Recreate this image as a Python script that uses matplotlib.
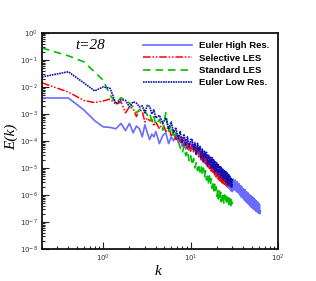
import numpy as np
import matplotlib
matplotlib.use("Agg")
import matplotlib.pyplot as plt
from matplotlib.ticker import LogLocator, NullFormatter

# wavenumber grid (segments A: 0.2-4.0, B: 4.4-10, C: 10.4-30, D: 30.8-62.8)
k = np.round(np.concatenate([np.arange(1, 21) * 0.2,
                             4.0 + np.arange(1, 16) * 0.4,
                             10.0 + np.arange(1, 51) * 0.4,
                             30.0 + np.arange(1, 42) * 0.8]), 2)

# log10 E(k)
logE_high = [
    # A
    -2.41, -2.41, -2.85, -3.25, -3.48, -3.50, -3.55, -3.35, -3.62, -3.35,
    -3.70, -3.45, -3.55, -3.85, -3.40, -3.70, -3.95, -3.75, -3.85, -3.65,
    # B
    -4.10, -3.80, -3.70, -4.10, -3.85, -4.00, -3.72, -4.05, -3.85, -4.20,
    -3.95, -4.30, -4.00, -4.35, -4.05,
    # C
    -4.00, -4.40, -4.05, -4.50, -4.15, -4.60, -4.25, -4.70, -4.35, -4.80,
    -4.42, -4.85, -4.50, -4.95, -4.55, -5.00, -4.65, -5.10, -4.72, -5.15,
    -4.78, -5.25, -4.85, -5.30, -4.90, -5.35, -4.95, -5.40, -5.00, -5.45,
    -5.05, -5.50, -5.10, -5.55, -5.15, -5.60, -5.20, -5.65, -5.25, -5.70,
    -5.30, -5.72, -5.35, -5.75, -5.40, -5.80, -5.42, -5.85, -5.45, -5.88,
    # D
    -5.40, -5.82, -5.45, -5.88, -5.50, -5.92, -5.58, -6.00, -5.65, -6.08,
    -5.70, -6.12, -5.78, -6.20, -5.80, -6.25, -5.88, -6.30, -5.92, -6.35,
    -5.98, -6.40, -6.02, -6.45, -6.05, -6.48, -6.10, -6.52, -6.12, -6.55,
    -6.18, -6.60, -6.22, -6.62, -6.25, -6.65, -6.30, -6.68, -6.35, -6.70,
    -6.60]

logE_sel = [
    # A
    -1.85, -2.19, -2.50, -2.58, -2.52, -2.45, -2.65, -2.55, -2.96, -2.74,
    -2.80, -3.10, -2.85, -2.90, -3.30, -3.15, -3.25, -3.20, -3.45, -3.30,
    # B
    -3.55, -3.35, -3.65, -3.45, -3.80, -3.60, -3.95, -3.75, -4.05, -3.85,
    -4.20, -3.95, -4.30, -4.10, -4.38,
    # C
    -4.10, -4.40, -4.22, -4.50, -4.30, -4.58, -4.40, -4.70, -4.45, -4.78,
    -4.55, -4.85, -4.62, -4.95, -4.72, -5.02, -4.80, -5.12, -4.90, -5.20,
    -4.98, -5.28, -5.05, -5.38, -5.12, -5.40, -5.18, -5.45, -5.22, -5.50,
    -5.28, -5.55, -5.30, -5.58, -5.35, -5.60, -5.38, -5.62, -5.40, -5.65,
    -5.42, -5.66, -5.45, -5.60, -5.48, -5.55]

logE_std = [
    # A
    -0.56, -0.85, -1.07, -1.45, -1.75, -2.30, -2.60, -2.40, -2.50, -2.60,
    -2.75, -2.96, -2.85, -2.75, -2.90, -3.05, -2.95, -3.30, -3.10, -3.40,
    # B
    -3.20, -3.60, -2.95, -3.65, -3.40, -3.90, -3.70, -4.00, -4.25, -4.45,
    -4.20, -4.55, -4.35, -4.75, -4.55,
    # C
    -4.90, -4.65, -5.00, -4.80, -5.10, -4.85, -5.15, -4.92, -5.25, -5.00,
    -5.35, -5.10, -5.45, -5.20, -5.55, -5.30, -5.65, -5.40, -5.75, -5.50,
    -5.85, -5.60, -5.95, -5.70, -6.05, -5.80, -6.15, -5.85, -6.20, -5.90,
    -6.25, -5.95, -6.20, -5.98, -6.30, -6.00, -6.25, -6.05, -6.35, -6.08,
    -6.30, -6.10, -6.38, -6.12, -6.35, -6.15, -6.40, -6.18, -6.38, -6.25]

logE_low = [
    # A
    -1.63, -1.44, -1.85, -2.15, -2.00, -2.05, -2.62, -2.48, -2.50, -2.74,
    -2.55, -2.60, -2.74, -2.70, -2.96, -2.68, -2.72, -3.00, -2.85, -3.15,
    # B
    -3.05, -3.35, -3.15, -3.55, -3.30, -3.70, -3.50, -3.95, -3.65, -4.05,
    -3.75, -4.15, -3.85, -4.25, -3.95,
    # C
    -3.92, -4.32, -4.10, -4.50, -4.09, -4.40, -4.20, -4.64, -4.30, -4.75,
    -4.38, -4.62, -4.42, -4.90, -4.50, -4.85, -4.60, -5.02, -4.62, -5.00,
    -4.70, -5.15, -4.75, -5.10, -4.82, -5.25, -4.88, -5.20, -4.92, -5.35,
    -4.98, -5.30, -5.02, -5.45, -5.10, -5.42, -5.12, -5.55, -5.15, -5.52,
    -5.20, -5.62, -5.25, -5.60, -5.30, -5.68, -5.35, -5.70, -5.40, -5.72]

labels = ["Euler High Res.", "Selective LES", "Standard LES", "Euler Low Res."]
annot = "t=28"

fig = plt.figure(figsize=(3.16, 2.81), dpi=100)
ax = fig.add_axes([0.133, 0.114, 0.747, 0.769])

def series(vals):
    kk = k[:len(vals)]
    return kk, 10.0 ** np.array(vals)

kx, ey = series(logE_high)
ax.plot(kx, ey, color="#6b6bff", lw=1.2, ls="-", label=labels[0])
kx, ey = series(logE_sel)
ax.plot(kx, ey, color="#ff0000", lw=1.1, ls=(0, (5, 1.2, 1, 1.2, 1, 1.2)), label=labels[1])
kx, ey = series(logE_std)
ax.plot(kx, ey, color="#00c000", lw=1.2, ls=(0, (4.5, 3)), label=labels[2])
kx, ey = series(logE_low)
ax.plot(kx, ey, color="#1010b0", lw=1.2, ls=(0, (1, 0.5)), label=labels[3])

ax.set_xscale("log")
ax.set_yscale("log")
ax.set_xlim(0.2, 100)
ax.set_ylim(1e-8, 1)

ax.xaxis.set_major_locator(LogLocator(base=10, numticks=10))
ax.xaxis.set_minor_locator(LogLocator(base=10, subs=np.arange(2, 10), numticks=20))
ax.yaxis.set_major_locator(LogLocator(base=10, numticks=12))
ax.yaxis.set_minor_locator(LogLocator(base=10, subs=np.arange(2, 10), numticks=20))
ax.xaxis.set_minor_formatter(NullFormatter())
ax.yaxis.set_minor_formatter(NullFormatter())

ax.tick_params(which="both", direction="in", top=False, right=False,
               labelsize=5, labelcolor="#333333", width=0.8, color="#222222")
ax.tick_params(which="major", length=5, pad=3)
ax.tick_params(which="minor", length=2.5)
for sp in ax.spines.values():
    sp.set_linewidth(1.3)
    sp.set_color("#111111")

ax.set_xlabel("k", family="Liberation Serif", style="italic", fontsize=11)
ax.set_ylabel("E(k)", family="Liberation Serif", style="italic", fontsize=11)
ax.xaxis.set_label_coords(0.49, -0.075)
ax.yaxis.set_label_coords(-0.10, 0.52)

ax.text(0.14, 0.94, annot, transform=ax.transAxes, family="Liberation Serif",
        style="italic", fontsize=11, va="center", ha="left")

leg = ax.legend(loc="upper right", frameon=False, handlelength=5.2,
                handletextpad=0.8, labelspacing=0.35, borderaxespad=0.5,
                prop={"family": "Liberation Sans", "weight": "bold", "size": 6.8})

fig.savefig("out.png", dpi=100)
